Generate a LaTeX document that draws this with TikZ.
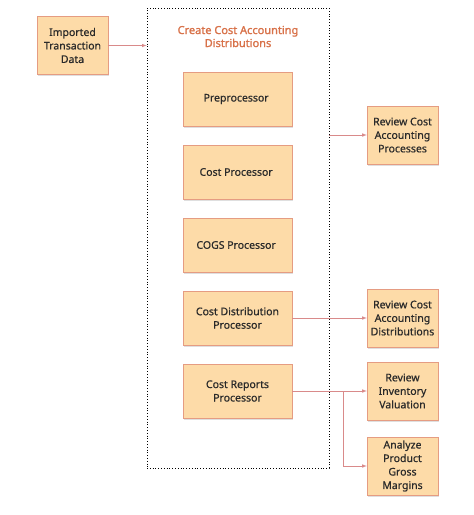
\documentclass[tikz,border=0pt]{standalone}
\usepackage{fontspec}
\setmainfont{Noto Sans}
\newfontfamily\titlefont[FakeBold=1.6]{Noto Sans}
\newfontfamily\boxfont[FakeBold=0.6]{Noto Sans}
\usepackage{xcolor}
\usetikzlibrary{shapes,arrows,positioning,shadows}
\definecolor{boxfill}{HTML}{FDDBA8}
\definecolor{boxline}{HTML}{E59C82}
\definecolor{linkline}{HTML}{D98A8A}
\definecolor{titletext}{HTML}{D8724A}
\definecolor{boxtext}{HTML}{2A2A2A}
\tikzstyle{block} = [rectangle, draw=boxline, fill=boxfill, text=boxtext, align=center, minimum width=109pt, minimum height=54pt, inner sep=1pt, font=\boxfont\fontsize{10.5}{13.5}\selectfont, drop shadow={opacity=0.25, shadow xshift=0.6pt, shadow yshift=-1.5pt}]
\tikzstyle{sideblock} = [block, minimum width=71pt, minimum height=58pt]
\tikzstyle{group} = [rectangle, draw=black, dotted, line width=0.8pt, minimum width=182pt, minimum height=460pt]
\tikzstyle{title} = [text=titletext, align=center, font=\titlefont\fontsize{11}{13}\selectfont]
\tikzstyle{line} = [draw=linkline, line width=0.6pt, -latex]

\begin{document}
\begin{tikzpicture}[x=1pt, y=-1pt, node distance = 73pt]
    \useasboundingbox (0,0) rectangle (474,515);

    \node[sideblock] (imported) at (72.5,45.5) {
        Imported\\Transaction\\Data
    };

    \node[group] (distributions) at (238,238) {};
    \node[title] (title) at (238,36.5) {
        Create Cost Accounting\\Distributions
    };

    \node[block] (preprocessor) at (237.5,99) {
        Preprocessor
    };

    \node[block, below of=preprocessor] (cost_processor) {
        Cost Processor
    };

    \node[block, below of=cost_processor] (cogs_processor) {
        COGS Processor
    };

    \node[block, below of=cogs_processor] (cost_distribution) {
        Cost Distribution\\Processor
    };

    \node[block, below of=cost_distribution] (cost_reports) {
        Cost Reports\\Processor
    };

    \node[sideblock] (review_processes) at (402.5,135) {
        Review Cost\\Accounting\\Processes
    };

    \node[sideblock, right of=cost_distribution, node distance=165pt] (review_distributions) {
        Review Cost\\Accounting\\Distributions
    };

    \node[sideblock, right of=cost_reports, node distance=165pt] (review_inventory) {
        Review\\Inventory\\Valuation
    };

    \node[sideblock, below of=review_inventory, node distance=75pt] (analyze_margins) {
        Analyze\\Product\\Gross\\Margins
    };

    \coordinate[right=51pt of cost_reports.east] (branch);

    \path[line] (imported) -- (imported -| distributions.west);
    \path[line] (distributions.east |- review_processes) -- (review_processes);
    \path[line] (cost_distribution) -- (review_distributions);
    \path[line] (cost_reports) -- (review_inventory);
    \path[line] (branch) |- (analyze_margins);

\end{tikzpicture}
\end{document}
